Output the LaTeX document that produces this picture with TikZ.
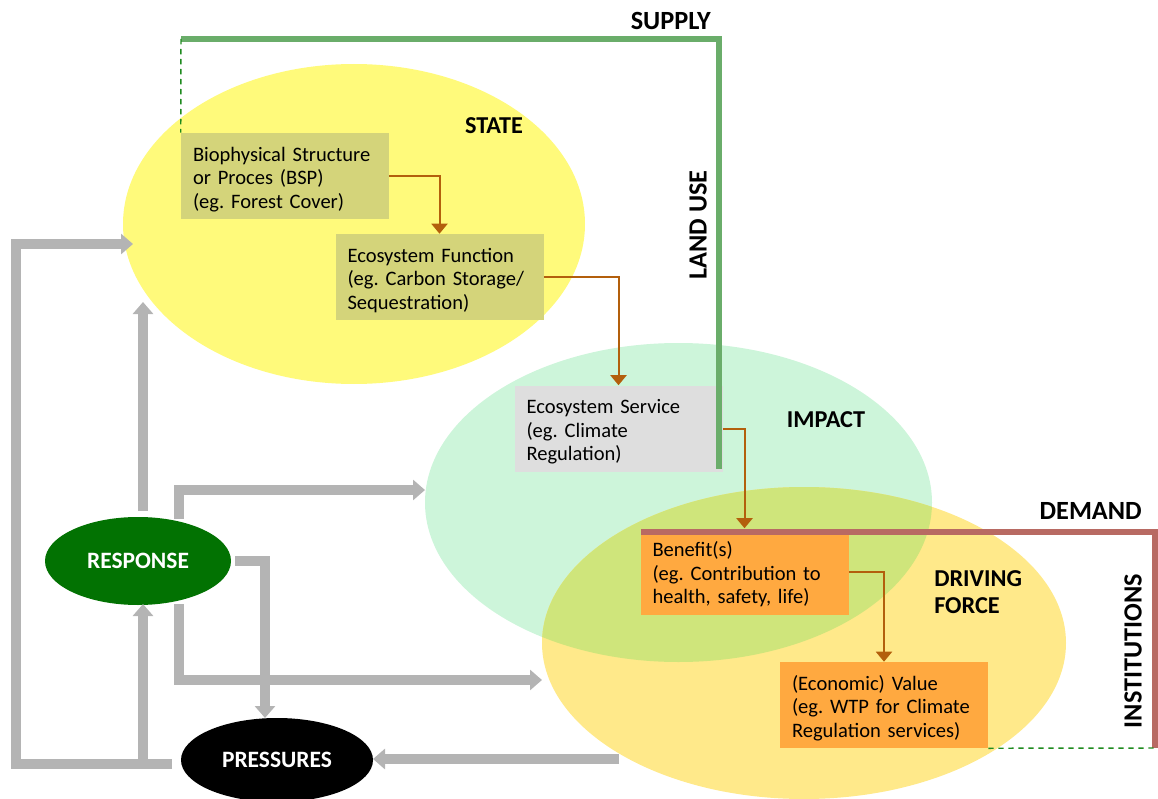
\documentclass[tikz,border=0pt]{standalone}
\usepackage{fontspec}
\setmainfont{Carlito}
\usetikzlibrary{arrows.meta,shapes.geometric}
\definecolor{stateY}{HTML}{FFFA7B}
\definecolor{impactG}{HTML}{CDF5DA}
\definecolor{driveY}{HTML}{FFE98A}
\definecolor{overlapC}{HTML}{CFE57B}
\definecolor{olivebox}{HTML}{D4D47A}
\definecolor{graybox}{HTML}{DEDEDE}
\definecolor{orangebox}{HTML}{FFA940}
\definecolor{brownc}{HTML}{B35F0C}
\definecolor{supplyG}{HTML}{6AAD6A}
\definecolor{demandR}{HTML}{B86A63}
\definecolor{dashG}{HTML}{1E8B1E}
\definecolor{arrowgray}{HTML}{B4B4B4}
\definecolor{respG}{HTML}{027202}
\frenchspacing
\tikzset{
  infobox/.style={rectangle, minimum width=156pt, minimum height=64.5pt, text width=138pt,
    inner xsep=9pt, inner ysep=0pt, align=left, font=\fontsize{15.4}{17.6}\selectfont,
    execute at begin node={\rule{0pt}{15.5pt}}},
  grayarrow/.style={draw=arrowgray, line width=7.5pt, line join=miter,
    -{Triangle[length=9pt,width=15pt]}},
  brownarrow/.style={draw=brownc, line width=1.5pt, -{Triangle[length=7.5pt,width=12pt]}},
  supplyline/.style={draw=supplyG, line width=4.5pt, line join=miter},
  demandline/.style={draw=demandR, line width=4.5pt, line join=miter},
  greendash/.style={draw=dashG, line width=1.1pt, dash pattern=on 4pt off 3.5pt},
  biglabel/.style={font=\fontsize{18.2}{20.5}\selectfont\bfseries, inner sep=0pt},
  axislabel/.style={font=\fontsize{19.7}{22}\selectfont\bfseries, inner sep=0pt},
  blob/.style={ellipse, inner sep=0pt, text=white, font=\fontsize{17.6}{20}\selectfont\bfseries}
}
\begin{document}
\begin{tikzpicture}[x=0.75pt,y=-0.75pt]
\useasboundingbox (0,0) rectangle (1158,799);
\clip (0,0) rectangle (1158,799);

% big ellipses
\fill[stateY] (354,224) ellipse [x radius=231, y radius=160];
\fill[impactG] (678.5,502.5) ellipse [x radius=253.5, y radius=159.5];
\fill[driveY] (804,643) ellipse [x radius=262, y radius=156];
\begin{scope}
  \clip (678.5,502.5) ellipse [x radius=253.5, y radius=159.5];
  \fill[overlapC] (804,643) ellipse [x radius=262, y radius=156];
\end{scope}

% boxes
\node[infobox, fill=olivebox] (bsp) at (285,176) {Biophysical Structure\\or Proces (BSP)\\(eg. Forest Cover)};
\node[infobox, fill=olivebox] (ef) at (439.5,277) {Ecosystem Function\\(eg. Carbon Storage/\\Sequestration)};
\node[infobox, fill=graybox] (es) at (618.5,428.5) {Ecosystem Service\\(eg. Climate\\Regulation)};
\node[infobox, fill=orangebox] (ben) at (744.5,571.5) {Benefit(s)\\(eg. Contribution to\\health, safety, life)};
\node[infobox, fill=orangebox] (val) at (884,705) {(Economic) Value\\(eg. WTP for Climate\\Regulation services)};

% response / pressures
\node[blob, fill=respG, minimum width=139.5pt, minimum height=66pt] (resp) at (138,561) {RESPONSE};
\node[blob, fill=black, minimum width=144pt, minimum height=63pt] (press) at (277,760) {PRESSURES};

% supply / demand lines
\coordinate (sTL) at (181,39);
\coordinate (sTR) at (719,39);
\coordinate (sB) at (719,469);
\draw[supplyline] (sTL) -- (sTR) -- (sB);
\draw[greendash] (sTL) -- (bsp.north west);

\coordinate (dTL) at (641,532);
\coordinate (dTR) at (1155,532);
\coordinate (dB) at (1155,748);
\draw[demandline] (dTL) -- (dTR) -- (dB);
\draw[greendash] (val.south east) -- (dB);

% brown connectors
\draw[brownarrow] (bsp.east) -| (ef.north);
\draw[brownarrow] (ef.east) -| (es.north);
\draw[brownarrow] (es.east) -| (ben.north);
\draw[brownarrow] (ben.east) -| (val.north);

% gray arrows
\coordinate (pL) at (172,764);
\coordinate (stateIn) at (133,244);
\coordinate (stateIn2) at (143,302);
\coordinate (respTop) at (143,511);
\coordinate (respBotIn) at (143,604);
\coordinate (bottomJ) at (143,764);
\coordinate (respNE) at (179,519);
\coordinate (impactIn) at (425,490);
\coordinate (respE) at (235,561);
\coordinate (pressIn) at (265,718);
\coordinate (respSE) at (179,604);
\coordinate (driveIn) at (542,680);
\coordinate (driveOut) at (619,759);
\coordinate (pressR) at (373,759);

\draw[grayarrow] (pL) -| (16,244) -- (stateIn);
\draw[grayarrow] (bottomJ) -- (respBotIn);
\draw[grayarrow] (respTop) -- (stateIn2);
\draw[grayarrow] (respNE) |- (impactIn);
\draw[grayarrow] (respE) -| (pressIn);
\draw[grayarrow] (respSE) |- (driveIn);
\draw[grayarrow] (driveOut) -- (pressR);

% labels
\node[axislabel, anchor=base east] (supply) at (711,30) {SUPPLY};
\node[axislabel, rotate=90] (landuse) at (698,225) {LAND USE};
\node[biglabel] (state) at (494,126) {STATE};
\node[biglabel] (impact) at (826,420) {IMPACT};
\node[biglabel, anchor=west, align=left] (driving) at (934,592) {DRIVING\\FORCE};
\node[axislabel, anchor=base east] (demand) at (1142,519) {DEMAND};
\node[axislabel, rotate=90] (inst) at (1133,651) {INSTITUTIONS};
\end{tikzpicture}
\end{document}
